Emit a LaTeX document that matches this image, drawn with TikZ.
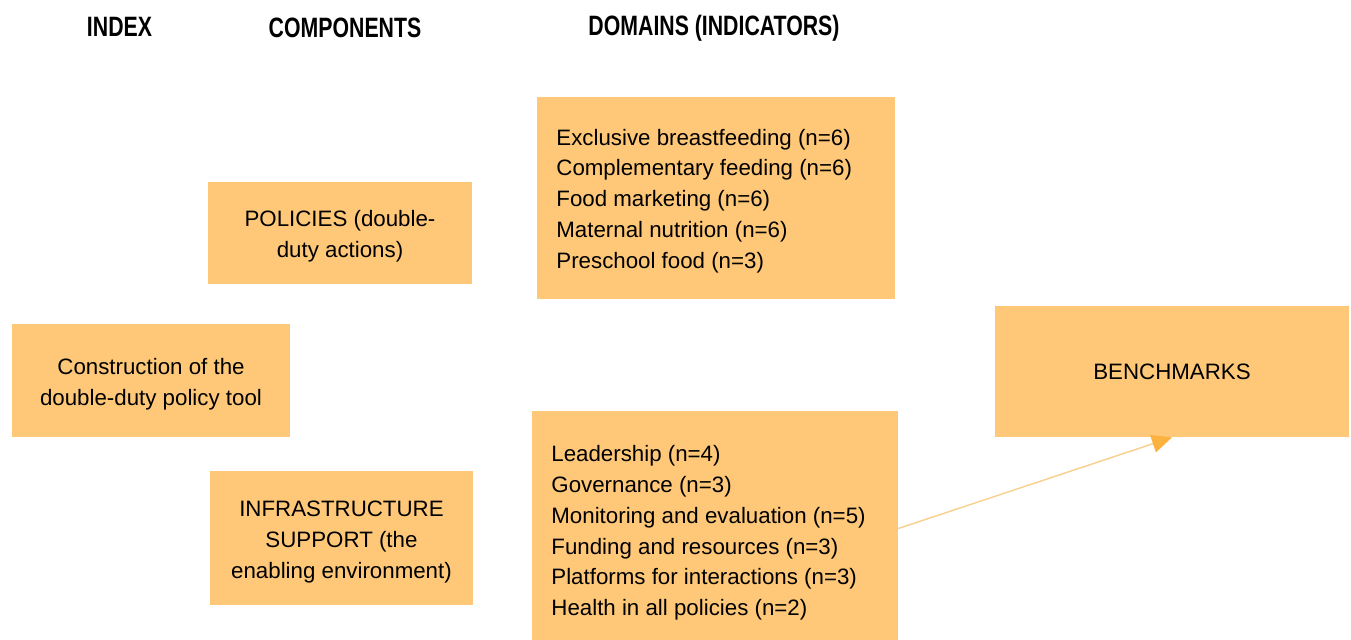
\documentclass[tikz,border=0pt]{standalone}
\usepackage{fontspec}
\setmainfont{Liberation Sans}
\newfontfamily\hdfont[FakeStretch=0.76]{Liberation Sans}
\usetikzlibrary{fit,arrows.meta}
\definecolor{boxfill}{RGB}{254,200,120}
\definecolor{linecol}{RGB}{246,208,140}
\definecolor{headcol}{RGB}{252,178,62}
\tikzset{
 box/.style={fill=boxfill, draw=none, inner sep=0pt, align=center, font=\fontsize{11.15}{15.5}\selectfont},
 txt/.style={align=left, inner sep=0pt, anchor=west, font=\fontsize{11.15}{15.4}\selectfont},
 hdr/.style={anchor=base, inner sep=0pt, font=\hdfont\bfseries\fontsize{14}{16}\selectfont},
 conn/.style={draw=linecol, line width=0.7pt, -{Triangle[length=10pt,width=9pt,color=headcol]}},
}
\begin{document}
\begin{tikzpicture}[x=0.5pt,y=-0.5pt]
\useasboundingbox (0,0) rectangle (1351,640);
% headers
\node[hdr] (hindex) at (119.5,37) {INDEX};
\node[hdr] (hcomp) at (345,38) {COMPONENTS};
\node[hdr] (hdom) at (714,36) {DOMAINS (INDICATORS)};
% boxes
\node[box, fit={(537,97)(895,299)}] (domtop) {};
\node[txt] (domtoptxt) at (556,201) {Exclusive breastfeeding (n=6)\\Complementary feeding (n=6)\\Food marketing (n=6)\\Maternal nutrition (n=6)\\Preschool food (n=3)};
\node[box, fit={(208,182)(472,284)}] (pol) {};
\node[box] (poltxt) at ([yshift=-1.5pt]pol.center) {POLICIES (double-\\duty actions)};
\node[box, fit={(12,324)(290,437)}] (cons) {};
\node[box] (constxt) at ([yshift=-1.8pt]cons.center) {Construction of the\\double-duty policy tool};
\node[box, fit={(210,471)(473,605)}] (infra) {};
\node[box] (infratxt) at ([yshift=-2pt]infra.center) {INFRASTRUCTURE\\SUPPORT (the\\enabling environment)};
\node[box, fit={(532,411)(898,640)}] (dombot) {};
\node[txt] (dombottxt) at (551,533) {Leadership (n=4)\\Governance (n=3)\\Monitoring and evaluation (n=5)\\Funding and resources (n=3)\\Platforms for interactions (n=3)\\Health in all policies (n=2)};
\node[box, fit={(995,306)(1349,437)}] (bench) {};
\node[box] (benchtxt) at (bench.center) {BENCHMARKS};
% connector
\draw[conn] ([yshift=-1.5pt]dombot.east) -- (bench.south);
\end{tikzpicture}
\end{document}
